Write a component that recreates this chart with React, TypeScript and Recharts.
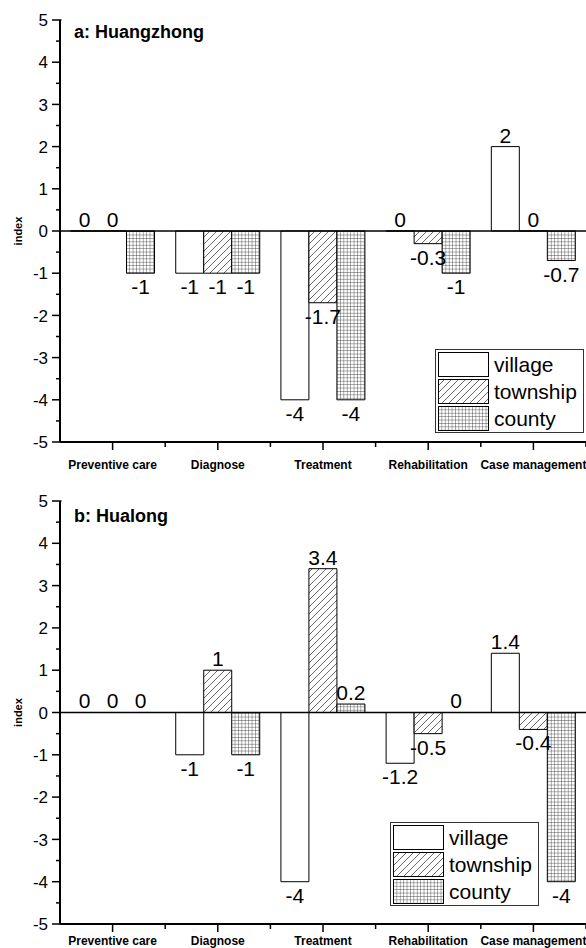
import React from 'react';
import { BarChart, Bar, XAxis, YAxis, ReferenceLine, LabelList, Legend } from 'recharts';

const categories = ['Preventive care', 'Diagnose', 'Treatment', 'Rehabilitation', 'Case management'];

const huangzhongVillage = [0, -1, -4, 0, 2];
const huangzhongTownship = [0, -1, -1.7, -0.3, 0];
const huangzhongCounty = [-1, -1, -4, -1, -0.7];

const hualongVillage = [0, -1, -4, -1.2, 1.4];
const hualongTownship = [0, 1, 3.4, -0.5, -0.4];
const hualongCounty = [0, -1, 0.2, 0, -4];

const yMajorTicks = [-5, -4, -3, -2, -1, 0, 1, 2, 3, 4, 5];
const yAllTicks = [-5, -4.5, -4, -3.5, -3, -2.5, -2, -1.5, -1, -0.5, 0, 0.5, 1, 1.5, 2, 2.5, 3, 3.5, 4, 4.5, 5];

const seriesNames = ['village', 'township', 'county'];

const FONT = '"Liberation Sans", Arial, Helvetica, sans-serif';
const W = 586;
const Y_AXIS_W = 60;
const HALF_BAND = (W - Y_AXIS_W) / categories.length / 2;

const buildRows = (v: number[], t: number[], c: number[]) =>
  categories.map((cat, i) => ({ category: cat, village: v[i], township: t[i], county: c[i] }));

const Patterns = ({ id }: { id: string }) => (
  <defs>
    <pattern id={`${id}-hatch`} patternUnits="userSpaceOnUse" width="7" height="7">
      <rect width="7" height="7" fill="#fff" />
      <path d="M-1,1 L1,-1 M0,7 L7,0 M6,8 L8,6" stroke="#444" strokeWidth="0.8" />
    </pattern>
    <pattern id={`${id}-grid`} patternUnits="userSpaceOnUse" width="3.4" height="3.4">
      <rect width="3.4" height="3.4" fill="#fff" />
      <path d="M0,0 H3.4 M0,0 V3.4" stroke="#222" strokeWidth="0.75" />
    </pattern>
  </defs>
);

const fills = (id: string) => ['#ffffff', `url(#${id}-hatch)`, `url(#${id}-grid)`];

const ValueLabel = (props: any) => {
  const { x, y, width, height, value } = props;
  if (value === undefined || value === null) return null;
  const top = Math.min(y, y + height);
  const bottom = Math.max(y, y + height);
  const mid = (top + bottom) / 2;
  let ty;
  if (value > 0) ty = top - 4;
  else if (value < 0) ty = bottom + 21;
  else ty = mid - 4;
  return (
    <text x={x + width / 2} y={ty} textAnchor="middle" fontFamily={FONT} fontSize={21} fill="#000">
      {String(value)}
    </text>
  );
};

const YTick = (props: any) => {
  const { x, y, payload } = props;
  const v = payload.value;
  const major = yMajorTicks.includes(v);
  return (
    <g>
      <line x1={x - (major ? 8 : 4)} x2={x + (v === 5 ? 1.5 : 0)} y1={y} y2={y} stroke="#000" strokeWidth={1.5} />
      {major && (
        <text x={x - 12} y={y} dy="0.36em" textAnchor="end" fontFamily={FONT} fontSize={17} fill="#000">
          {String(v)}
        </text>
      )}
    </g>
  );
};

const makeXTick = (labelOffset: number) => (props: any) => {
  const { x, y, payload } = props;
  return (
    <g>
      <line x1={x} x2={x} y1={y} y2={y + 8} stroke="#000" strokeWidth={1.5} />
      <line x1={x + HALF_BAND} x2={x + HALF_BAND} y1={y} y2={y + 5} stroke="#000" strokeWidth={1.5} />
      <text x={x} y={y + labelOffset} textAnchor="middle" fontFamily={FONT} fontSize={12} fontWeight="bold" fill="#000">
        {payload.value}
      </text>
    </g>
  );
};

const LegendBox = ({ id }: { id: string }) => {
  const lid = `${id}-lg`;
  const f = fills(lid);
  return (
    <div
      style={{
        width: 147,
        height: 82,
        border: '1px solid #333',
        background: '#fff',
        fontFamily: FONT,
        position: 'relative',
      }}
    >
      {seriesNames.map((name, i) => (
        <div key={name} style={{ position: 'absolute', left: 2, top: 2 + i * 27, height: 25, display: 'flex', alignItems: 'center' }}>
          <svg width={51} height={25} style={{ display: 'block' }}>
            {i === 0 && <Patterns id={lid} />}
            <rect x={0.5} y={0.5} width={50} height={24} fill={f[i]} stroke="#000" strokeWidth={1} />
          </svg>
          <span style={{ marginLeft: 5, fontSize: 21, lineHeight: '25px', color: '#000' }}>{name}</span>
        </div>
      ))}
    </div>
  );
};

type PanelProps = {
  id: string;
  title: string;
  village: number[];
  township: number[];
  county: number[];
  height: number;
  marginTop: number;
  xAxisHeight: number;
  xLabelOffset: number;
  legendLeft: number;
  legendTop: number;
  titleTop: number;
  top: number;
};

const Panel = (p: PanelProps) => {
  const rows = buildRows(p.village, p.township, p.county);
  const f = fills(p.id);
  const XTick = makeXTick(p.xLabelOffset);
  return (
    <div style={{ position: 'absolute', left: 0, top: p.top, width: W, height: p.height }}>
      <BarChart
        width={W}
        height={p.height}
        data={rows}
        margin={{ top: p.marginTop, right: 0, bottom: 0, left: 0 }}
        barCategoryGap="10%"
        barGap={0}
      >
        <Patterns id={p.id} />
        <XAxis
          dataKey="category"
          height={p.xAxisHeight}
          tickSize={0}
          tickMargin={0}
          interval={0}
          axisLine={{ stroke: '#000', strokeWidth: 2 }}
          tickLine={false}
          tick={<XTick />}
        />
        <YAxis
          type="number"
          domain={[-5, 5]}
          ticks={yAllTicks}
          interval={0}
          width={Y_AXIS_W}
          tickSize={0}
          tickMargin={0}
          tickLine={false}
          axisLine={{ stroke: '#000', strokeWidth: 2 }}
          tick={<YTick />}
          allowDataOverflow
          label={{
            value: 'index',
            content: (lp: any) => {
              const vb = lp.viewBox || { x: 0, y: p.marginTop, width: Y_AXIS_W, height: 422 };
              const cx = 18;
              const cy = vb.y + vb.height / 2;
              return (
                <text
                  x={cx}
                  y={cy}
                  transform={`rotate(-90, ${cx}, ${cy})`}
                  textAnchor="middle"
                  dy="0.35em"
                  fontFamily={FONT}
                  fontSize={11}
                  fontWeight="bold"
                  fill="#000"
                >
                  index
                </text>
              );
            },
          }}
        />
        <Legend
          layout="horizontal"
          verticalAlign="middle"
          align="center"
          wrapperStyle={{ position: 'absolute', left: p.legendLeft, top: p.legendTop, width: 149, height: 84 }}
          content={() => <LegendBox id={p.id} />}
        />
        {seriesNames.map((s, i) => (
          <Bar key={s} dataKey={s} fill={f[i]} stroke="#000" strokeWidth={1} minPointSize={0.01} isAnimationActive={false}>
            <LabelList dataKey={s} content={<ValueLabel />} />
          </Bar>
        ))}
        <ReferenceLine y={0} stroke="#000" strokeWidth={1.5} />
      </BarChart>
      <div
        style={{
          position: 'absolute',
          left: 74,
          top: p.titleTop,
          fontFamily: FONT,
          fontSize: 18,
          fontWeight: 'bold',
          lineHeight: '18px',
          whiteSpace: 'nowrap',
          color: '#000',
        }}
      >
        {p.title}
      </div>
    </div>
  );
};

export default function App() {
  return (
    <div style={{ position: 'relative', width: W, height: 948, overflow: 'hidden', background: '#fff' }}>
      <style>{'html,body{margin:0 !important;padding:0;overflow:hidden;background:#fff}'}</style>
      <Panel
        id="a"
        title="a: Huangzhong"
        village={huangzhongVillage}
        township={huangzhongTownship}
        county={huangzhongCounty}
        top={0}
        height={482}
        marginTop={20}
        xAxisHeight={40}
        xLabelOffset={27}
        legendLeft={435}
        legendTop={349}
        titleTop={23}
      />
      <Panel
        id="b"
        title="b: Hualong"
        village={hualongVillage}
        township={hualongTownship}
        county={hualongCounty}
        top={482}
        height={466}
        marginTop={19}
        xAxisHeight={24}
        xLabelOffset={21}
        legendLeft={390}
        legendTop={340}
        titleTop={25}
      />
    </div>
  );
}
